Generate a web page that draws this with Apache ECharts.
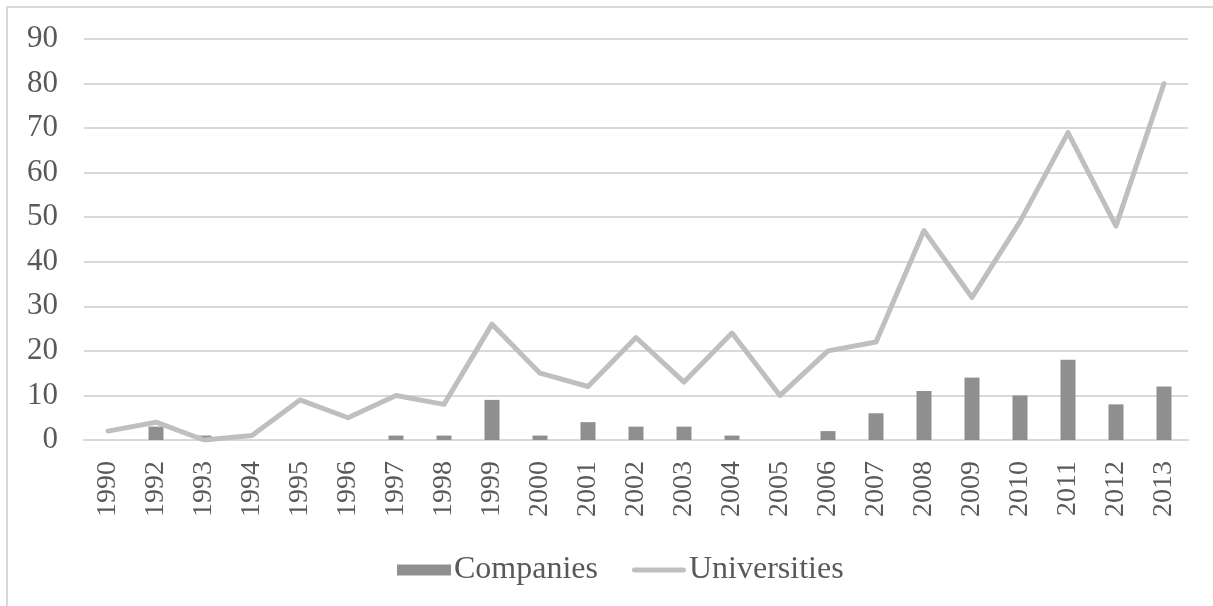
<!DOCTYPE html>
<html>
<head>
<meta charset="utf-8">
<script src="https://cdn.jsdelivr.net/npm/echarts@6/dist/echarts.min.js"></script>
<style>
  html, body { margin: 0; padding: 0; background: #ffffff; }
  #chart { width: 1213px; height: 606px; }
</style>
</head>
<body>
<div id="chart"></div>
<script>
// Publication years (1991 absent)
const years = ['1990', '1992', '1993', '1994', '1995', '1996', '1997', '1998', '1999', '2000',
  '2001', '2002', '2003', '2004', '2005', '2006', '2007', '2008', '2009', '2010',
  '2011', '2012', '2013'];

// Counts per year
const companies = [0, 3, 1, 0, 0, 0, 1, 1, 9, 1, 4, 3, 3, 1, 0, 2, 6, 11, 14, 10, 18, 8, 12];
const universities = [2, 4, 0, 1, 9, 5, 10, 8, 26, 15, 12, 23, 13, 24, 10, 20, 22, 47, 32, 49, 69, 48, 80];

const FONT = 'Liberation Serif, Times New Roman, serif';
const TEXT = '#595959';
const BAR_COLOR = '#8f8f8f';
const LINE_COLOR = '#bfbfbf';

const chart = echarts.init(document.getElementById('chart'), null, { renderer: 'canvas' });
chart.setOption({
  animation: false,
  backgroundColor: '#ffffff',
  graphic: [{
    type: 'rect',
    shape: { x: 7, y: 7, width: 1300, height: 700 },
    style: { fill: 'none', stroke: '#d9d9d9', lineWidth: 2 },
    silent: true
  }],
  grid: { left: 84, right: 25, top: 39, bottom: 166 },
  legend: {
    left: 392,
    top: 549,
    itemWidth: 54,
    itemHeight: 11,
    itemGap: 34,
    textStyle: { fontFamily: FONT, fontSize: 32, color: TEXT, padding: [0, 0, 0, -2] },
    data: [
      { name: 'Companies', icon: 'rect', itemStyle: { color: BAR_COLOR } },
      { name: 'Universities', icon: 'path://M2.5,0L51.5,0A2.5,2.5,0,0,1,51.5,5L2.5,5A2.5,2.5,0,0,1,2.5,0Z',
        itemStyle: { color: LINE_COLOR } }
    ]
  },
  xAxis: {
    type: 'category',
    data: years,
    boundaryGap: true,
    axisLine: { show: true, lineStyle: { color: '#d9d9d9', width: 2 } },
    axisTick: { show: false },
    axisLabel: {
      rotate: 90,
      margin: 21,
      interval: 0,
      fontFamily: FONT,
      fontSize: 28,
      color: TEXT
    }
  },
  yAxis: {
    type: 'value',
    min: 0,
    max: 90,
    interval: 10,
    axisLine: { show: false },
    axisTick: { show: false },
    splitLine: { lineStyle: { color: '#d9d9d9', width: 2 } },
    axisLabel: {
      margin: 26,
      fontFamily: FONT,
      fontSize: 31,
      color: TEXT
    }
  },
  series: [
    {
      name: 'Companies',
      type: 'bar',
      data: companies,
      barWidth: 15,
      itemStyle: { color: BAR_COLOR }
    },
    {
      name: 'Universities',
      type: 'line',
      data: universities,
      symbol: 'none',
      lineStyle: { color: LINE_COLOR, width: 5, cap: 'round', join: 'round' },
      itemStyle: { color: LINE_COLOR }
    }
  ]
});
</script>
</body>
</html>
